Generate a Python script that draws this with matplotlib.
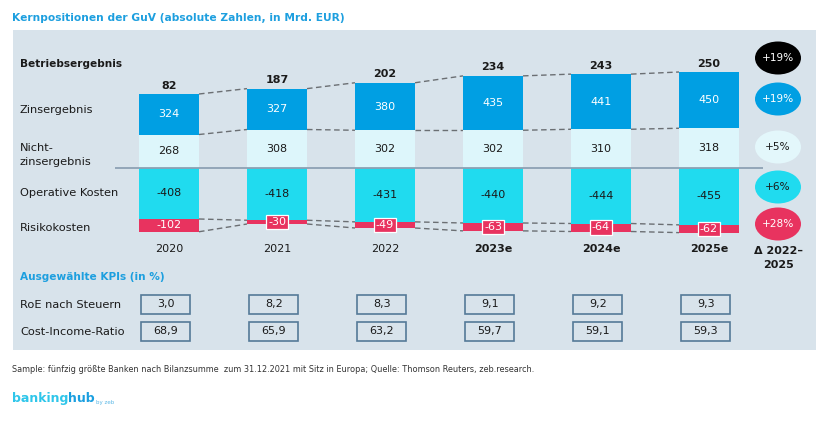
import numpy as np
import matplotlib
matplotlib.use('Agg')
import matplotlib.pyplot as plt
from matplotlib.patches import Rectangle, Ellipse
from matplotlib.transforms import blended_transform_factory

plt.rcParams['font.family'] = ['DejaVu Sans']

# ── Data ──────────────────────────────────────────────────────────────────────
years      = ['2020', '2021', '2022', '2023e', '2024e', '2025e']
zins       = [324, 327, 380, 435, 441, 450]
nichtzins  = [268, 308, 302, 302, 310, 318]
op_kosten  = [-408, -418, -431, -440, -444, -455]
risiko     = [-102, -30, -49, -63, -64, -62]
betrieb    = [82, 187, 202, 234, 243, 250]
roe        = ['3,0', '8,2', '8,3', '9,1', '9,2', '9,3']
cir        = ['68,9', '65,9', '63,2', '59,7', '59,1', '59,3']
deltas     = ['+19%', '+19%', '+5%', '+6%', '+28%']

C_ZINS  = '#009fe3'
C_NICHT = '#ddf6fb'
C_OPS   = '#20dbef'
C_RISK  = '#e8335f'
C_BG    = '#d8e3eb'
C_TITLE = '#1d9fdf'
C_DASH  = '#6b6f73'

FS_LAB = 8.2   # row labels
FS_BLD = 7.6   # bold labels
FS_NUM = 8.0   # numbers

W, H = 825, 424
fig = plt.figure(figsize=(W / 100, H / 100), dpi=100)

# pixel overlay for panel, labels and badges
bg = fig.add_axes([0, 0, 1, 1], zorder=0)
bg.set_xlim(0, W)
bg.set_ylim(H, 0)
bg.axis('off')
bg.add_patch(Rectangle((13, 30), 803, 320, facecolor=C_BG, edgecolor='none'))

bg.text(12, 18, 'Kernpositionen der GuV (absolute Zahlen, in Mrd. EUR)', color=C_TITLE,
        fontsize=7.7, fontweight='bold', va='center', ha='left')

bg.text(20, 64, 'Betriebsergebnis', fontsize=FS_BLD, fontweight='bold', va='center',
        ha='left', color='#1a1a1a')
rows = [('Zinsergebnis', 110), ('Nicht-\nzinsergebnis', 155),
        ('Operative Kosten', 193), ('Risikokosten', 228)]
for lab, y in rows:
    bg.text(20, y, lab, fontsize=FS_LAB, va='center', ha='left',
            color='#1a1a1a', linespacing=1.4)

# ── Main waterfall axes (data coordinates) ───────────────────────────────────
top_px, bot_px = 40, 240
y_top, y_bot = (168 - top_px) * 8, (168 - bot_px) * 8
ax = fig.add_axes([115 / W, 1 - bot_px / H, 648 / W, (bot_px - top_px) / H], zorder=1)
ax.set_xlim(-0.5, 5.5)
ax.set_ylim(y_bot, y_top)
ax.patch.set_alpha(0)
for s in ax.spines.values():
    s.set_visible(False)

x = np.arange(len(years))
bw = 60 / 108
zins_a = np.array(zins); nicht_a = np.array(nichtzins)
ops_a = np.array(op_kosten); risk_a = np.array(risiko)

ax.bar(x, nicht_a, bw, color=C_NICHT, zorder=2)
ax.bar(x, zins_a, bw, bottom=nicht_a, color=C_ZINS, zorder=2)
ax.bar(x, ops_a, bw, color=C_OPS, zorder=2)
ax.bar(x, risk_a, bw, bottom=ops_a, color=C_RISK, zorder=2)
ax.axhline(0, xmin=0, xmax=1, color='#8da1b4', lw=1.3, zorder=3)

# dashed connectors
for edge in [nicht_a + zins_a, nicht_a, ops_a, ops_a + risk_a]:
    for i in range(len(x) - 1):
        ax.plot([x[i] + bw / 2, x[i + 1] - bw / 2], [edge[i], edge[i + 1]],
                ls=(0, (4, 2.5)), color=C_DASH, lw=1.0, zorder=1)

for i in range(len(x)):
    ax.text(x[i], nicht_a[i] + zins_a[i] / 2, str(zins[i]), ha='center', va='center',
            color='white', fontsize=FS_NUM, zorder=4)
    ax.text(x[i], nicht_a[i] / 2, str(nichtzins[i]), ha='center', va='center',
            color='#1a1a1a', fontsize=FS_NUM, zorder=4)
    ax.text(x[i], ops_a[i] / 2, str(op_kosten[i]), ha='center', va='center',
            color='#1a1a1a', fontsize=FS_NUM, zorder=4)
    ax.annotate(str(betrieb[i]), (x[i], nicht_a[i] + zins_a[i]), xytext=(0, 2.5),
                textcoords='offset points', ha='center', va='bottom',
                fontsize=FS_NUM, fontweight='bold', color='#1a1a1a')
    ry = ops_a[i] + risk_a[i] / 2
    if abs(risiko[i]) > 80:
        ax.text(x[i], ry, str(risiko[i]), ha='center', va='center', color='white',
                fontsize=FS_NUM, zorder=4)
    else:
        ax.text(x[i], ry, str(risiko[i]), ha='center', va='center', color='white',
                fontsize=FS_NUM, zorder=4,
                bbox=dict(boxstyle='square,pad=0.2', fc=C_RISK, ec='white', lw=0.9))

ax.set_xticks(x)
ax.set_xticklabels(years, fontsize=FS_NUM, color='#1a1a1a')
for lbl in ax.get_xticklabels():
    if lbl.get_text().endswith('e'):
        lbl.set_fontweight('bold')
ax.tick_params(axis='x', length=0, pad=3)
ax.set_yticks([])

# ── Delta badges ──────────────────────────────────────────────────────────────
badge_y  = [58, 99, 147, 187, 224]
badge_fc = ['black', C_ZINS, '#e3f7fb', C_OPS, C_RISK]
badge_tc = ['white', 'white', '#1a1a1a', '#1a1a1a', 'white']
for d, by, fc, tc in zip(deltas, badge_y, badge_fc, badge_tc):
    bg.add_patch(Ellipse((778, by), 46, 33, facecolor=fc, edgecolor='none', zorder=2))
    bg.text(778, by, d, ha='center', va='center', color=tc, fontsize=7.6, zorder=3)
bg.text(778, 257.5, 'Δ 2022–\n2025', ha='center', va='center', fontsize=FS_NUM,
        fontweight='bold', color='#1a1a1a', linespacing=1.5)

# ── KPI table ─────────────────────────────────────────────────────────────────
bg.text(20, 277, 'Ausgewählte KPIs (in %)', color=C_TITLE, fontsize=FS_BLD,
        fontweight='bold', va='center', ha='left')
bg.text(20, 305, 'RoE nach Steuern', fontsize=FS_LAB, va='center', ha='left', color='#1a1a1a')
bg.text(20, 332, 'Cost-Income-Ratio', fontsize=FS_LAB, va='center', ha='left', color='#1a1a1a')

blend = blended_transform_factory(ax.transData, bg.transData)
kw = 49 / 108
for vals, yc in [(roe, 304), (cir, 331)]:
    for i, v in enumerate(vals):
        bg.add_patch(Rectangle((x[i] - 0.03 - kw / 2, yc - 9.5), kw, 19, transform=blend,
                               facecolor=C_BG, edgecolor='#557a98', lw=1.2, zorder=2))
        bg.text(x[i] - 0.03, yc, v, transform=blend, ha='center', va='center',
                fontsize=FS_NUM, color='#1a1a1a', zorder=3)

# ── Footer ────────────────────────────────────────────────────────────────────
bg.text(12, 370, 'Sample: fünfzig größte Banken nach Bilanzsumme  zum 31.12.2021 mit Sitz in Europa; '
        'Quelle: Thomson Reuters, zeb.research.', fontsize=5.85, va='center', ha='left',
        color='#333333')
t1 = bg.text(12, 402, 'banking', fontsize=9, fontweight='bold', color='#2fc6ea',
             va='baseline', ha='left')
t2 = bg.annotate('hub', xy=(1, 0), xycoords=t1, va='bottom', ha='left',
                 fontsize=9, fontweight='bold', color='#1a9fe0')
bg.annotate('by zeb', xy=(1, 0), xycoords=t2, xytext=(1, 0), textcoords='offset points',
            va='bottom', ha='left', fontsize=4, color='#5bb8e6')

fig.savefig('out.png', dpi=100)
